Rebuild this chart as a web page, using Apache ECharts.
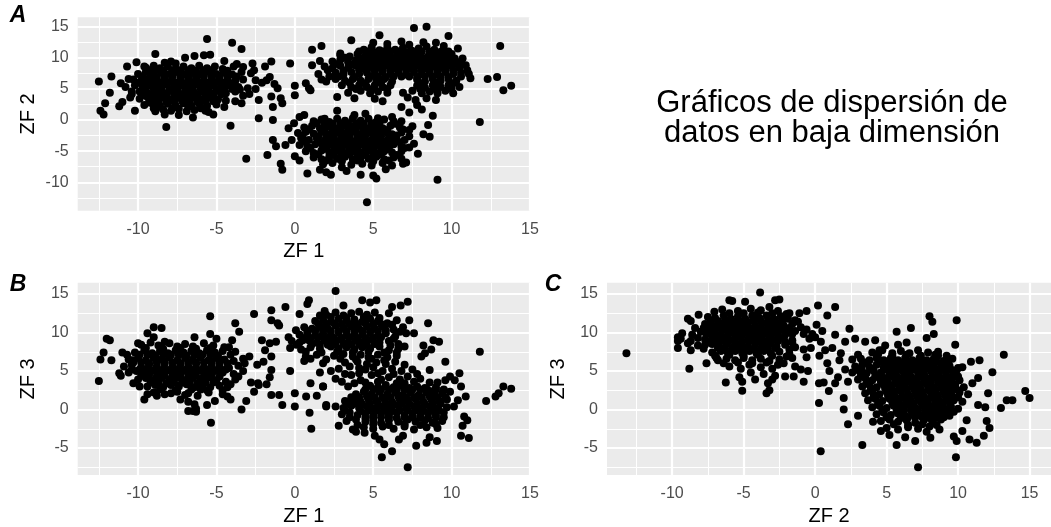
<!DOCTYPE html>
<html><head><meta charset="utf-8">
<script src="https://cdn.jsdelivr.net/npm/echarts@6/dist/echarts.min.js"></script>
<style>html,body{margin:0;padding:0;background:#fff}#c{width:1051px;height:527px}</style>
</head><body><div id="c"></div>
<script>
// ---------- texts ----------
const titleLines = ['Gráficos de dispersión de', 'datos en baja dimensión'];
const panelLabels = ['A', 'B', 'C'];
const xNames = ['ZF 1', 'ZF 1', 'ZF 2'];
const yNames = ['ZF 2', 'ZF 3', 'ZF 3'];
// ---------- ticks ----------
const majorTicksWide = [-10, -5, 0, 5, 10, 15];
const minorTicksWide = [-12.5, -7.5, -2.5, 2.5, 7.5, 12.5];
const majorTicksZF3 = [-5, 0, 5, 10, 15];
const minorTicksZF3 = [-7.5, -2.5, 2.5, 7.5, 12.5];
// ---------- axis ranges ----------
const rangeZF1 = [-13.85, 15.0];
const rangeZF2 = [-14.56, 16.5];
const rangeZF3 = [-8.5, 16.47];

// ---------- Panel A: ZF1 vs ZF2 ----------
const A_left = [
[-12.5,6.2],[-12.4,1.5],[-12.2,0.9],[-12.1,2.7],[-11.8,4.4],[-11.7,7.0],[-11.2,2.2],[-11.0,2.9],[-11.1,5.9],[-10.7,8.6],[-10.6,6.6],[-10.4,4.6],[-10.5,3.6],[-10.2,1.5],[-10.1,9.3],[-9.6,8.6],[-8.9,10.6],[-8.2,-1.1],[-8.3,9.2],[-7.9,9.4],[-7.6,9.1],[-5.6,13.0],[-4.0,12.4],[-3.4,11.4],[-4.1,-0.9],[-3.1,-6.2],[-5.4,10.5],[-5.8,10.4],[-6.4,10.3],[-5.2,0.9],[-5.5,1.3],[-6.5,0.4],[-7.4,0.8],[-8.3,0.9],[-9.0,1.9],[-9.3,2.8],[-7.0,10.0],[-4.5,9.5],[-3.7,9.0],[-3.3,8.5],
[-9.5,8.4],[-9.0,8.7],[-8.6,8.3],[-8.1,8.6],[-7.6,8.2],[-7.1,8.6],[-6.6,8.3],[-6.1,8.7],[-5.6,8.3],[-5.1,8.6],[-4.6,8.2],[-3.9,8.6],
[-10.0,7.4],[-9.5,7.7],[-9.0,7.3],[-8.5,7.6],[-8.0,7.4],[-7.5,7.7],[-7.0,7.3],[-6.5,7.6],[-6.0,7.3],[-5.5,7.7],[-5.0,7.4],[-4.5,7.6],[-4.0,7.3],[-3.4,7.7],[-2.8,7.5],
[-10.3,6.5],[-9.8,6.3],[-9.3,6.6],[-8.8,6.4],[-8.3,6.7],[-7.8,6.3],[-7.3,6.6],[-6.8,6.4],[-6.3,6.7],[-5.8,6.3],[-5.3,6.6],[-4.8,6.4],[-4.3,6.6],[-3.8,6.3],[-3.3,6.5],[-2.5,6.4],[-2.1,6.0],
[-10.8,5.3],[-10.2,5.6],[-9.7,5.3],[-9.2,5.6],[-8.7,5.4],[-8.2,5.7],[-7.7,5.3],[-7.2,5.6],[-6.7,5.4],[-6.2,5.7],[-5.7,5.3],[-5.2,5.6],[-4.7,5.4],[-4.2,5.6],[-3.6,5.3],[-3.0,5.1],[-2.5,5.0],
[-10.4,4.2],[-9.9,4.6],[-9.4,4.3],[-8.9,4.6],[-8.4,4.4],[-7.9,4.7],[-7.4,4.3],[-6.9,4.6],[-6.4,4.3],[-5.9,4.6],[-5.4,4.4],[-4.9,4.7],[-4.4,4.3],[-3.8,4.6],[-3.3,3.9],
[-9.9,3.4],[-9.4,3.7],[-8.9,3.4],[-8.4,3.6],[-7.9,3.3],[-7.4,3.7],[-6.9,3.4],[-6.4,3.6],[-5.9,3.3],[-5.4,3.6],[-4.9,3.3],[-4.4,3.1],[-3.8,3.0],[-3.4,2.7],
[-9.6,2.4],[-9.1,2.7],[-8.6,2.3],[-8.1,2.6],[-7.6,2.3],[-7.1,2.7],[-6.6,2.3],[-6.1,2.6],[-5.6,2.3],[-5.0,2.5],[-4.5,2.1],
[-8.9,1.4],[-8.4,1.7],[-7.9,1.5],[-7.4,1.8],[-6.9,1.4],[-6.4,1.6],[-6.0,1.9],[-5.7,1.5],
[-2.7,9.1],[-1.9,8.6],[-1.5,9.4],[-1.8,6.4],[-1.6,6.9],[-1.3,5.8],[-1.5,3.8],[-1.4,2.1],[-1.4,0.0],[-2.3,0.3],[-2.3,3.2],[-1.1,5.1],[-0.9,3.5],[-0.8,2.7],[-0.3,9.1],[0.0,5.5],[0.0,4.0],[0.7,5.9],[0.9,5.1],[-2.9,4.2],[-2.6,8.0],
[-9.3,8.0],[-8.4,7.9],[-7.3,8.0],[-6.3,7.9],[-5.3,8.0],[-4.3,7.9],
[-9.7,7.0],[-8.8,6.9],[-7.8,7.1],[-6.8,6.9],[-5.8,7.0],[-4.8,7.1],[-3.7,7.0],
[-10.0,6.0],[-9.0,5.9],[-8.0,6.1],[-7.0,5.9],[-6.0,6.0],[-5.0,6.1],[-4.0,5.9],
[-9.5,5.0],[-8.5,4.9],[-7.5,5.1],[-6.5,4.9],[-5.5,5.0],[-4.5,5.1],[-3.5,4.9],
[-9.7,4.0],[-8.7,3.9],[-7.7,4.1],[-6.7,3.9],[-5.7,4.0],[-4.7,4.1],
[-9.2,3.0],[-8.2,2.9],[-7.2,3.1],[-6.2,2.9],[-5.2,3.0],
[-8.8,2.0],[-7.8,1.9],[-6.8,2.1],[-5.8,1.9]
];
const A_leftCore = [
[-9.2,7.0],[-8.3,7.0],[-7.3,7.0],[-6.3,7.0],[-5.3,7.0],[-4.3,7.0],
[-9.5,6.0],[-8.5,6.0],[-7.5,6.0],[-6.5,6.0],[-5.5,6.0],[-4.5,6.0],
[-9.0,5.0],[-8.0,5.0],[-7.0,5.0],[-6.0,5.0],[-5.0,5.0],[-4.0,5.0],
[-9.2,4.0],[-8.2,4.0],[-7.2,4.0],[-6.2,4.0],[-5.2,4.0],
[-8.9,8.0],[-7.8,8.0],[-6.8,8.0],[-5.8,8.0],
[-8.7,3.0],[-7.7,3.0],[-6.7,3.0],[-5.7,3.0]
];
const A_upper = [
[1.1,11.3],[1.7,11.9],[1.1,8.8],[1.6,9.5],[1.0,4.8],[3.6,12.8],[5.4,13.6],[7.6,14.8],[8.4,15.0],[9.8,13.5],[9.5,11.9],[10.4,11.5],[10.7,9.9],[11.2,6.7],[10.1,4.3],[10.5,5.3],[11.8,-0.3],[12.3,6.6],[12.9,6.9],[13.1,11.9],[13.3,4.8],[13.8,5.5],[2.7,3.7],[2.9,10.7],[2.2,7.0],[2.0,6.2],[11.0,8.0],[11.1,7.4],[10.9,8.8],
[4.4,11.3],[4.9,11.7],[5.4,11.2],[5.9,11.6],[6.4,11.3],[6.9,11.6],[7.4,11.2],[7.9,11.5],[8.4,11.8],[8.9,11.3],[9.4,11.1],
[5.0,12.4],[5.9,12.2],[6.8,12.6],[7.3,12.1],[8.2,12.5],[9.0,12.4],
[2.9,10.4],[3.5,10.2],[4.0,10.6],[4.5,10.3],[5.0,10.6],[5.5,10.2],[6.0,10.6],[6.5,10.3],[7.0,10.7],[7.5,10.3],[8.0,10.6],[8.5,10.2],[9.0,10.6],[9.5,10.3],[10.0,10.6],
[2.4,9.4],[2.9,9.7],[3.4,9.3],[3.9,9.6],[4.4,9.3],[4.9,9.7],[5.4,9.4],[5.9,9.6],[6.4,9.3],[6.9,9.7],[7.4,9.4],[7.9,9.6],[8.4,9.3],[8.9,9.7],[9.4,9.4],[9.9,9.6],[10.4,9.3],
[1.9,8.6],[2.4,8.3],[2.9,8.7],[3.4,8.4],[3.9,8.7],[4.4,8.3],[4.9,8.6],[5.4,8.4],[5.9,8.7],[6.4,8.3],[6.9,8.6],[7.4,8.4],[7.9,8.7],[8.4,8.3],[8.9,8.6],[9.4,8.4],[9.9,8.7],[10.5,8.4],
[1.5,7.4],[2.6,7.6],[3.1,7.3],[3.6,7.7],[4.1,7.4],[4.6,7.6],[5.1,7.3],[5.6,7.7],[6.1,7.4],[6.6,7.6],[7.1,7.3],[7.6,7.7],[8.1,7.4],[8.6,7.6],[9.1,7.3],[9.6,7.7],[10.1,7.4],[10.6,7.6],
[1.7,6.5],[2.6,6.6],[3.2,6.3],[3.7,6.6],[4.2,6.3],[4.7,6.6],[5.2,6.3],[5.7,6.6],[6.2,6.2],[7.8,6.5],[8.3,6.2],[8.8,6.6],[9.3,6.3],[9.8,6.6],[10.3,6.3],
[3.0,5.6],[3.6,5.3],[4.1,5.6],[4.6,5.3],[5.1,5.6],[5.6,5.3],[6.1,5.6],[7.8,5.5],[8.3,5.2],[8.8,5.6],[9.3,5.3],[9.8,5.6],
[3.4,4.4],[4.2,4.7],[4.8,4.3],[5.3,4.6],[5.9,4.4],[6.9,4.4],[7.5,4.7],[8.1,4.3],[8.6,4.6],[9.1,4.3],[9.6,4.7],
[3.8,3.5],[5.1,3.4],[5.6,3.0],[7.2,3.6],[7.7,3.2],[8.4,3.5],[9.0,3.2],
[7.8,2.4],[8.1,1.7],[8.8,0.7],[7.3,1.2],[6.8,2.1],
[4.1,11.0],[5.1,10.9],[6.1,11.0],[7.1,10.9],[8.1,11.0],[9.1,10.9],[9.8,11.0],
[3.2,10.0],[4.2,9.9],[5.2,10.0],[6.2,9.9],[7.2,10.0],[8.2,9.9],[9.2,10.0],[10.2,9.9],
[2.6,9.0],[3.6,8.9],[4.6,9.0],[5.6,8.9],[6.6,9.0],[7.6,8.9],[8.6,9.0],[9.6,8.9],[10.6,9.0],
[2.1,8.0],[3.1,7.9],[4.1,8.0],[5.1,7.9],[6.1,8.0],[7.1,7.9],[8.1,8.0],[9.1,7.9],[10.1,8.0],
[2.8,7.0],[3.8,6.9],[4.8,7.0],[5.8,6.9],[6.8,7.0],[7.8,6.9],[8.8,7.0],[9.8,6.9],[10.6,7.0],
[3.5,6.0],[4.5,5.9],[5.5,6.0],[8.1,5.9],[9.1,6.0],[10.1,5.9],
[3.9,5.0],[4.9,4.9],[5.9,5.0],[8.0,5.0],[9.0,4.9],[10.0,5.0]
];
const A_upperCore = [
[4.6,11.0],[5.6,11.0],[6.6,11.0],[7.6,11.0],[8.6,11.0],
[4.7,10.0],[5.7,10.0],[6.7,10.0],[7.7,10.0],[8.7,10.0],[9.7,10.0],
[4.1,9.0],[5.1,9.0],[6.1,9.0],[7.1,9.0],[8.1,9.0],[9.1,9.0],[10.1,9.0],
[4.6,8.0],[5.6,8.0],[6.6,8.0],[7.6,8.0],[8.6,8.0],[9.6,8.0],
[5.3,7.0],[6.3,7.0],[7.3,7.0],[8.3,7.0],[9.3,7.0]
];
const A_lower = [
[-1.75,-5.6],[-1.4,-3.2],[-1.2,-4.2],[-0.9,-7.0],[-0.8,-8.0],[-0.4,-1.3],[-0.05,-0.5],[0.3,0.5],[0.6,0.8],[0.8,-8.6],[4.6,-13.2],[9.1,-9.6],[4.2,-8.8],[5.2,-9.4],[5.0,-8.9],[7.85,-5.4],[8.6,-2.7],[8.5,-0.8],[7.5,-1.0],[1.6,-8.0],[2.3,-8.8],[2.0,-8.4],[1.9,0.2],[2.7,1.5],[3.8,0.8],[4.5,1.0],[5.3,0.3],[6.2,0.5],[6.8,-0.2],[7.1,-6.8],[6.2,-7.3],[3.0,-7.6],[0.3,-6.5],[0.0,-5.8],[-0.6,-4.0],[8.2,-2.3],[7.6,-3.8],[3.3,-8.2],[5.8,-7.9],
[1.2,-0.2],[1.7,0.1],[2.2,-0.3],[2.7,0.2],[3.2,-0.1],[3.7,0.3],[4.2,-0.1],[4.7,0.2],[5.2,-0.3],[5.7,0.1],[6.3,-0.2],
[0.6,-1.2],[1.1,-0.9],[1.6,-1.3],[2.1,-1.0],[2.6,-1.3],[3.1,-0.9],[3.6,-1.2],[4.1,-0.9],[4.6,-1.3],[5.1,-1.0],[5.6,-1.3],[6.1,-0.9],[6.7,-1.2],[7.3,-1.6],
[0.2,-2.1],[0.7,-1.9],[1.2,-2.2],[1.7,-1.9],[2.2,-2.3],[2.7,-2.0],[3.2,-2.2],[3.7,-1.9],[4.2,-2.3],[4.7,-2.0],[5.2,-2.2],[5.7,-1.9],[6.2,-2.3],[6.8,-2.0],[7.3,-2.6],
[-0.2,-3.2],[0.4,-2.9],[0.9,-3.2],[1.4,-2.9],[1.9,-3.3],[2.4,-3.0],[2.9,-3.2],[3.4,-2.9],[3.9,-3.3],[4.4,-3.0],[4.9,-3.2],[5.4,-2.9],[5.9,-3.3],[6.4,-3.0],[7.0,-3.2],
[0.3,-4.0],[0.8,-4.3],[1.3,-3.9],[1.8,-4.2],[2.3,-3.9],[2.8,-4.3],[3.3,-4.0],[3.8,-4.2],[4.3,-3.9],[4.8,-4.3],[5.3,-4.0],[5.8,-4.2],[6.3,-3.9],[6.8,-4.3],[7.3,-4.4],
[0.7,-5.0],[1.2,-5.3],[1.7,-4.9],[2.2,-5.2],[2.7,-4.9],[3.2,-5.3],[3.7,-5.0],[4.2,-5.2],[4.7,-4.9],[5.2,-5.3],[5.7,-5.0],[6.2,-5.2],[6.8,-5.0],
[1.2,-6.0],[1.7,-6.3],[2.2,-5.9],[2.7,-6.2],[3.2,-5.9],[3.7,-6.3],[4.2,-6.0],[4.7,-6.2],[5.2,-5.9],[5.7,-6.3],[6.3,-6.0],[6.8,-6.2],
[1.8,-7.1],[2.4,-6.9],[3.6,-7.2],[4.3,-7.0],[4.9,-7.3],[5.6,-6.9],[6.9,-7.0],
[1.4,-0.5],[2.4,-0.6],[3.4,-0.5],[4.4,-0.6],[5.4,-0.5],[6.4,-0.6],
[0.9,-1.5],[1.9,-1.6],[2.9,-1.5],[3.9,-1.6],[4.9,-1.5],[5.9,-1.6],[6.9,-1.5],
[0.5,-2.5],[1.5,-2.6],[2.5,-2.5],[3.5,-2.6],[4.5,-2.5],[5.5,-2.6],[6.5,-2.5],
[0.6,-3.5],[1.6,-3.6],[2.6,-3.5],[3.6,-3.6],[4.6,-3.5],[5.6,-3.6],[6.6,-3.5],
[1.0,-4.5],[2.0,-4.6],[3.0,-4.5],[4.0,-4.6],[5.0,-4.5],[6.0,-4.6],[7.0,-4.5],
[1.5,-5.5],[2.5,-5.6],[3.5,-5.5],[4.5,-5.6],[5.5,-5.5],[6.5,-5.6],
[2.0,-6.5],[3.0,-6.6],[4.0,-6.5],[5.0,-6.6],[6.0,-6.5]
];
const A_lowerCore = [
[1.9,-0.5],[2.9,-0.5],[3.9,-0.5],[4.9,-0.5],
[2.4,-1.5],[3.4,-1.5],[4.4,-1.5],[5.4,-1.5],
[2.0,-2.5],[3.0,-2.5],[4.0,-2.5],[5.0,-2.5],[6.0,-2.5],
[2.1,-3.5],[3.1,-3.5],[4.1,-3.5],[5.1,-3.5],[6.1,-3.5],
[2.5,-4.5],[3.5,-4.5],[4.5,-4.5],[5.5,-4.5],
[3.0,-5.5],[4.0,-5.5],[5.0,-5.5]
];

// ---------- Panel B: ZF1 vs ZF3 ----------
const B_left = [
[-12.5,3.7],[-12.4,6.5],[-12.2,7.4],[-12.0,9.2],[-11.8,9.0],[-11.7,6.4],[-11.1,4.4],[-11.2,4.7],[-11.0,7.4],[-10.7,7.1],[-10.35,6.4],[-10.0,8.6],[-10.3,3.4],[-9.9,3.0],[-9.6,1.3],[-9.4,2.0],[-9.4,9.9],[-9.0,10.7],[-8.5,10.6],[-8.3,8.8],[-6.8,-0.2],[-6.5,-0.2],[-6.3,0.1],[-5.6,0.6],[-5.4,12.1],[-5.35,-1.7],[-5.1,1.1],[-4.3,1.7],[-4.1,1.3],[-3.8,11.2],[-3.55,10.1],[-3.4,0.0],[-3.1,1.1],[-5.4,9.8],[-5.0,9.2],[-6.4,9.4],[-7.0,1.9],[-7.9,2.1],[-8.8,1.8],[-9.0,9.4],[-4.0,9.0],[-6.3,-0.3],[-6.0,2.6],
[-9.8,8.4],[-9.2,8.7],[-8.7,8.3],[-8.0,8.6],[-7.5,8.2],[-7.0,8.5],[-6.5,8.2],[-5.8,8.6],[-5.2,8.3],[-4.5,8.1],
[-10.2,7.4],[-9.6,7.7],[-9.1,7.3],[-8.6,7.6],[-8.1,7.3],[-7.6,7.7],[-7.1,7.4],[-6.6,7.6],[-6.1,7.3],[-5.6,7.7],[-5.1,7.4],[-4.6,7.6],[-3.8,7.5],
[-10.6,6.5],[-10.0,6.7],[-9.5,6.4],[-9.0,6.7],[-8.5,6.5],[-8.0,6.8],[-7.5,6.4],[-7.0,6.7],[-6.5,6.5],[-6.0,6.8],[-5.5,6.4],[-5.0,6.7],[-4.5,6.5],[-3.9,6.3],[-3.3,6.6],
[-10.9,5.6],[-10.4,5.8],[-9.8,5.5],[-9.3,5.8],[-8.8,5.6],[-8.3,5.9],[-7.8,5.5],[-7.3,5.8],[-6.8,5.6],[-6.3,5.9],[-5.8,5.5],[-5.3,5.8],[-4.8,5.6],[-4.2,5.4],[-3.6,5.7],
[-10.6,4.8],[-10.1,5.0],[-9.6,4.7],[-9.1,5.0],[-8.6,4.8],[-8.1,5.1],[-7.6,4.7],[-7.1,5.0],[-6.6,4.8],[-6.1,5.1],[-5.6,4.7],[-5.1,5.0],[-4.6,4.8],[-3.9,4.6],
[-10.0,3.9],[-9.5,4.1],[-9.0,3.8],[-8.5,4.1],[-8.0,3.9],[-7.5,4.2],[-7.0,3.8],[-6.5,4.1],[-6.0,3.9],[-5.5,4.2],[-5.0,3.8],[-4.4,3.6],[-3.8,3.9],
[-9.4,3.0],[-8.9,3.2],[-8.4,2.9],[-7.9,3.2],[-7.4,3.0],[-6.9,3.3],[-6.4,2.9],[-5.9,3.2],[-5.4,2.9],[-4.8,3.1],[-4.3,2.9],
[-9.0,2.2],[-8.3,2.0],[-7.5,2.3],[-6.8,2.1],[-6.2,1.8],[-5.5,2.2],[-4.6,2.0],
[-6.8,1.0],[-6.4,0.7],[-7.3,1.3],
[-2.6,12.4],[-1.5,11.6],[-1.5,12.9],[-0.6,13.3],[-1.1,11.2],[-2.1,9.0],[-1.9,7.7],[-1.5,6.9],[-1.5,5.15],[-2.35,3.4],[-1.5,1.9],[-1.0,1.9],[-0.8,0.6],[-2.8,3.5],[-2.4,5.8],[-2.0,6.2],[-1.2,8.8],[-1.0,10.9],[-1.6,8.6],[-2.9,6.9],[-1.6,4.2],[-0.3,5.0],[-0.4,9.4],[-2.3,3.2],[-1.8,3.3],[-2.6,2.3],
[-9.5,8.0],[-8.4,7.9],[-7.3,8.0],[-6.3,7.9],[-5.4,8.0],[-4.2,8.1],
[-9.9,7.1],[-8.9,7.0],[-7.9,7.1],[-6.9,7.0],[-5.9,7.1],[-4.9,7.0],[-4.1,7.1],
[-10.3,6.1],[-9.3,6.0],[-8.3,6.2],[-7.3,6.0],[-6.3,6.1],[-5.3,6.2],[-4.3,6.0],[-3.2,6.0],
[-10.4,5.2],[-9.4,5.3],[-8.4,5.2],[-7.4,5.3],[-6.4,5.2],[-5.4,5.3],[-4.4,5.2],[-3.3,5.0],
[-9.8,4.4],[-8.8,4.3],[-7.8,4.4],[-6.8,4.3],[-5.8,4.4],[-4.8,4.3],[-3.6,4.3],
[-9.2,3.5],[-8.2,3.4],[-7.2,3.5],[-6.2,3.4],[-5.2,3.5],[-4.1,3.3],
[-8.6,2.6],[-7.6,2.5],[-6.6,2.6],[-5.6,2.5],[-4.6,2.5]
];
const B_leftCore = [
[-9.4,7.1],[-8.4,7.1],[-7.4,7.1],[-6.4,7.1],[-5.4,7.1],
[-9.8,6.1],[-8.8,6.1],[-7.8,6.1],[-6.8,6.1],[-5.8,6.1],[-4.8,6.1],
[-9.9,5.2],[-8.9,5.2],[-7.9,5.2],[-6.9,5.2],[-5.9,5.2],[-4.9,5.2],
[-9.3,4.4],[-8.3,4.4],[-7.3,4.4],[-6.3,4.4],[-5.3,4.4],
[-8.7,3.5],[-7.7,3.5],[-6.7,3.5],[-5.7,3.5]
];
const B_right = [
[2.6,15.4],[3.1,13.5],[4.3,14.2],[4.8,13.9],[5.2,14.2],[6.2,13.3],[6.75,13.5],[7.2,14.0],[7.3,11.6],[8.5,11.2],[7.1,9.9],[8.84,9.0],[9.2,8.8],[8.07,6.9],[8.6,5.15],[9.6,6.2],[0.3,12.4],[0.8,13.7],[0.9,14.2],[0.07,10.3],[0.5,9.0],[1.9,12.8],[1.6,12.2],[6.0,12.5],[5.6,11.0],[7.6,9.9],[8.2,8.3],[8.7,7.8],[8.3,7.3],
[2.0,12.3],[2.6,12.6],[3.1,12.2],[3.6,12.5],[4.1,12.7],[4.6,12.3],[5.1,12.6],
[1.3,11.5],[1.8,11.7],[2.3,11.4],[2.8,11.8],[3.3,11.5],[3.8,11.7],[4.3,11.4],[4.8,11.8],[5.3,11.5],[5.9,11.2],[6.5,11.6],
[0.6,10.7],[1.1,10.5],[1.6,10.8],[2.1,10.5],[2.6,10.9],[3.1,10.6],[3.6,10.8],[4.1,10.5],[4.6,10.8],[5.1,10.5],[5.6,10.8],[6.3,10.4],[6.9,10.7],
[0.3,9.7],[0.8,9.9],[1.3,9.6],[1.8,9.9],[2.3,9.7],[2.8,10.0],[3.3,9.6],[3.8,9.9],[4.3,9.7],[4.8,10.0],[5.3,9.6],[5.8,9.9],[6.4,9.5],
[-0.2,8.9],[0.3,8.7],[0.9,9.0],[1.4,8.7],[1.9,9.0],[2.4,8.8],[2.9,9.1],[3.4,8.7],[3.9,9.0],[4.4,8.8],[4.9,9.1],[5.4,8.7],[6.0,8.9],[6.6,8.5],
[-0.3,8.0],[0.4,7.8],[1.0,8.1],[1.6,7.9],[2.3,8.2],[2.8,7.9],[3.3,8.1],[3.8,7.8],[4.3,8.1],[4.8,7.9],[5.4,8.2],[6.0,7.7],[6.6,7.9],
[0.7,6.9],[1.4,7.1],[2.5,7.0],[3.1,7.2],[3.7,6.9],[4.2,7.1],[4.7,6.8],[5.3,7.1],[5.9,6.8],[6.5,7.0],
[0.6,6.3],[1.8,6.0],[3.2,6.1],[4.0,6.2],[4.6,5.9],[5.2,6.1],[5.8,5.9],[6.4,6.2],[7.0,5.8],
[1.0,3.4],[1.8,3.0],[1.6,4.8],[2.3,5.0],[2.6,4.0],[3.0,3.6],[3.4,3.0],[3.6,4.5],[4.2,3.8],[4.5,5.2],[4.9,4.5],[5.3,3.6],[5.6,5.0],[6.0,4.2],[6.5,3.4],[6.8,5.0],[7.2,4.3],[7.6,3.6],[8.0,4.0],[8.3,2.8],[0.72,1.7],[0.94,-0.43],[1.05,-2.5],[0.0,2.1],[0.0,0.4],[2.0,0.6],[1.4,1.8],
[4.8,3.1],[5.3,2.9],[5.8,3.2],[6.3,2.9],[6.8,3.1],[7.3,2.8],[7.8,3.0],[8.4,2.7],[9.0,2.9],[9.5,2.6],
[3.9,2.0],[4.4,2.3],[4.9,2.0],[5.4,2.3],[5.9,2.0],[6.4,2.2],[6.9,1.9],[7.4,2.2],[7.9,1.9],[8.4,2.2],[8.9,1.9],[9.4,2.1],[9.9,2.3],
[3.2,1.1],[3.7,1.3],[4.2,1.0],[4.7,1.3],[5.2,1.1],[5.7,1.4],[6.2,1.0],[6.7,1.3],[7.2,1.1],[7.7,1.4],[8.2,1.0],[8.7,1.3],[9.2,1.1],[9.7,1.3],
[2.6,0.4],[3.1,0.2],[3.6,0.5],[4.1,0.2],[4.6,0.4],[5.1,0.1],[5.6,0.4],[6.1,0.2],[6.6,0.5],[7.1,0.2],[7.6,0.4],[8.1,0.1],[8.6,0.4],[9.1,0.2],[9.7,0.3],
[3.0,-0.6],[3.5,-0.4],[4.0,-0.7],[4.5,-0.5],[5.0,-0.8],[5.5,-0.5],[6.0,-0.7],[6.5,-0.4],[7.0,-0.7],[7.5,-0.5],[8.0,-0.8],[8.5,-0.5],[9.0,-0.7],[9.5,-0.4],
[3.3,-1.5],[3.9,-1.3],[4.5,-1.6],[5.0,-1.4],[5.5,-1.7],[6.0,-1.4],[6.6,-1.6],[7.2,-1.3],[7.7,-1.6],[8.3,-1.4],[8.8,-1.7],[9.4,-1.5],
[3.7,-2.6],[4.4,-2.3],[5.0,-2.5],[5.6,-2.2],[6.3,-2.5],[7.0,-2.2],[7.6,-2.6],[8.4,-2.3],[9.1,-2.4],
[5.55,-6.2],[6.2,-5.4],[7.2,-7.5],[7.74,-4.7],[8.4,-4.3],[9.06,-4.1],[6.64,-3.9],[5.1,-3.4],[4.45,-3.0],[3.9,-2.9],[2.8,-2.1],[2.0,0.4],[1.8,3.0],[5.7,-4.5],[6.9,-3.4],[8.6,-3.6],[5.4,-3.9],
[9.9,4.3],[10.5,4.7],[10.6,3.0],[10.15,0.4],[10.8,-0.9],[10.7,-2.1],[10.6,-3.4],[11.1,-3.7],[10.9,1.7],[11.8,7.5],[12.2,1.1],[12.8,1.7],[13.0,2.1],[13.3,3.0],[13.8,2.7],[10.2,3.8],[10.4,1.2],[11.0,-1.4],[9.6,3.8],
[2.3,12.0],[3.3,11.9],[4.4,12.0],[5.4,11.9],
[1.5,11.1],[2.5,11.2],[3.5,11.1],[4.5,11.2],[5.5,11.1],[6.2,11.0],
[0.8,10.2],[1.8,10.3],[2.8,10.2],[3.8,10.3],[4.8,10.2],[5.8,10.3],[6.7,10.1],
[0.5,9.3],[1.5,9.4],[2.5,9.3],[3.5,9.4],[4.5,9.3],[5.5,9.4],[6.3,9.2],
[0.1,8.4],[1.1,8.5],[2.1,8.4],[3.1,8.5],[4.1,8.4],[5.1,8.5],[6.1,8.3],[7.0,8.2],
[0.7,7.5],[1.7,7.4],[2.7,7.5],[3.7,7.4],[4.7,7.5],[5.7,7.4],[6.5,7.4],
[1.0,6.6],[2.0,6.5],[2.9,6.6],[3.9,6.5],[4.9,6.6],[5.7,6.4],
[2.8,5.3],[3.5,5.6],[4.1,5.4],[5.0,5.5],[6.2,5.3],[7.5,5.2],[3.2,4.6],[4.1,4.7],[5.3,4.7],[6.3,4.6],[7.8,4.6],[3.8,3.4],[4.5,3.5],[5.5,3.9],[6.7,3.9],[7.0,3.4],[8.6,3.5],[9.1,3.5],
[4.5,2.6],[5.5,2.6],[6.5,2.5],[7.5,2.6],[8.6,2.4],[9.5,2.5],
[3.6,1.6],[4.6,1.7],[5.6,1.6],[6.6,1.7],[7.6,1.6],[8.6,1.7],[9.6,1.6],
[3.3,0.8],[4.3,0.7],[5.3,0.8],[6.3,0.7],[7.3,0.8],[8.3,0.7],[9.3,0.8],
[3.2,-0.1],[4.2,-0.2],[5.2,-0.1],[6.2,-0.2],[7.2,-0.1],[8.2,-0.2],[9.2,-0.1],
[3.5,-1.0],[4.5,-1.1],[5.5,-1.0],[6.5,-1.1],[7.5,-1.0],[8.5,-1.1],[9.5,-1.0],
[4.0,-2.0],[5.0,-1.9],[6.0,-2.0],[7.0,-1.9],[8.0,-2.0],[9.0,-1.9]
];
const B_rightCore = [
[2.0,11.1],[3.0,11.1],[4.0,11.1],[5.0,11.1],
[1.3,10.2],[2.3,10.2],[3.3,10.2],[4.3,10.2],[5.3,10.2],
[1.0,9.3],[2.0,9.3],[3.0,9.3],[4.0,9.3],[5.0,9.3],
[1.6,8.4],[2.6,8.4],[3.6,8.4],[4.6,8.4],
[5.0,2.6],[6.0,2.6],[7.0,2.6],[8.0,2.6],[9.0,2.6],
[4.1,1.6],[5.1,1.6],[6.1,1.6],[7.1,1.6],[8.1,1.6],[9.1,1.6],
[3.8,0.8],[4.8,0.8],[5.8,0.8],[6.8,0.8],[7.8,0.8],[8.8,0.8],
[4.7,-0.1],[5.7,-0.1],[6.7,-0.1],[7.7,-0.1],[8.7,-0.1],
[5.0,-1.0],[6.0,-1.0],[7.0,-1.0],[8.0,-1.0],[9.0,-1.0]
];

// ---------- Panel C: ZF2 vs ZF3 ----------
const C_upper = [
[-13.2,7.3],[-8.8,5.3],[-5.1,3.6],[-5.1,2.45],[-6.25,3.5],[-3.4,2.1],[-3.2,2.5],[-9.6,9.4],[-9.6,8.9],[-9.6,8.0],[-8.9,11.8],[-8.7,11.5],[-8.7,7.7],[-8.15,12.3],[-8.4,10.6],[-7.7,8.4],[-7.5,12.0],[-7.6,6.0],[-7.05,12.7],[-3.85,15.2],[-6.0,14.2],[-5.8,14.1],[-4.9,14.0],[-2.8,14.2],[-2.5,14.3],[-1.1,12.5],[0.2,13.5],[1.4,13.3],[0.85,12.2],[-9.3,9.9],[-8.9,8.6],[-6.9,6.7],[-4.5,4.8],[-3.0,3.9],[-2.1,4.3],[-1.5,4.3],[-0.8,3.6],[-1.0,5.2],[-0.6,12.8],[-1.8,12.5],
[-6.5,13.0],[-5.4,12.8],[-4.5,13.1],[-3.8,12.9],[-3.2,13.3],[-2.6,12.8],
[-7.0,11.9],[-6.4,12.2],[-5.9,11.8],[-5.4,12.1],[-4.9,11.8],[-4.4,12.2],[-3.9,11.9],[-3.4,12.2],[-2.9,11.8],[-2.4,12.1],[-1.9,11.8],[-1.4,11.6],
[-7.7,11.1],[-7.2,10.9],[-6.7,11.2],[-6.2,10.9],[-5.7,11.2],[-5.2,10.9],[-4.7,11.2],[-4.2,10.9],[-3.7,11.2],[-3.2,10.9],[-2.7,11.2],[-2.2,10.9],[-1.6,11.1],[-1.0,10.7],
[-8.0,10.1],[-7.5,10.3],[-7.0,10.0],[-6.5,10.3],[-6.0,10.0],[-5.5,10.3],[-5.0,10.0],[-4.5,10.3],[-4.0,10.0],[-3.5,10.3],[-3.0,10.0],[-2.5,10.3],[-2.0,10.0],[-1.4,10.2],[-0.8,9.8],
[-9.4,9.2],[-8.2,9.3],[-7.7,9.1],[-7.2,9.4],[-6.7,9.1],[-6.2,9.4],[-5.7,9.1],[-5.2,9.4],[-4.7,9.1],[-4.2,9.4],[-3.7,9.1],[-3.2,9.4],[-2.7,9.1],[-2.2,9.3],[-1.6,9.0],
[-8.2,8.3],[-7.2,8.5],[-6.7,8.2],[-6.2,8.5],[-5.7,8.2],[-5.2,8.5],[-4.7,8.2],[-4.2,8.5],[-3.7,8.2],[-3.2,8.5],[-2.7,8.2],[-2.1,8.4],[-1.4,8.1],[-0.8,7.8],
[-7.2,7.4],[-6.6,7.6],[-6.1,7.3],[-5.6,7.6],[-5.1,7.3],[-4.6,7.6],[-4.1,7.3],[-3.6,7.6],[-3.1,7.3],[-2.5,7.5],[-1.8,7.2],
[-6.8,6.4],[-6.2,6.6],[-5.6,6.4],[-5.0,6.7],[-4.4,6.4],[-3.8,6.6],[-3.2,6.3],[-2.5,6.5],[-1.6,6.7],
[-6.0,5.6],[-5.2,5.3],[-4.6,5.8],[-3.8,5.5],[-3.0,5.3],[-2.6,5.8],[-1.4,5.6],
[-5.3,4.2],[-3.6,4.6],[-2.8,4.4],[-4.2,3.9],[-3.3,3.4],
[0.0,9.4],[0.4,8.8],[0.7,7.7],[1.4,9.7],[0.85,6.0],[0.27,3.4],[0.6,3.5],[0.96,2.4],[1.4,3.4],[2.1,5.2],[2.4,10.5],[2.1,8.8],[2.8,9.2],[3.0,7.1],[1.7,6.4],[3.25,5.2],[3.5,8.8],[4.2,9.0],[4.5,7.7],[-0.3,8.0],[-0.6,6.8],[0.3,7.0],[1.2,8.0],[1.8,7.3],[2.6,6.5],[-0.2,9.8],[0.1,11.0],[0.5,10.2],[0.27,0.86],[0.39,-5.4],[-0.5,5.0],[1.0,5.0],[1.6,4.2],[2.3,3.6],[2.0,1.5],
[-6.0,12.5],[-5.0,12.5],[-4.0,12.6],[-3.0,12.5],[-2.0,12.4],
[-7.3,11.5],[-6.3,11.6],[-5.3,11.5],[-4.3,11.6],[-3.3,11.5],[-2.3,11.6],[-1.2,11.4],
[-7.8,10.6],[-6.8,10.7],[-5.8,10.6],[-4.8,10.7],[-3.8,10.6],[-2.8,10.7],[-1.8,10.6],[-0.6,10.4],
[-8.6,9.7],[-7.6,9.8],[-6.6,9.7],[-5.6,9.8],[-4.6,9.7],[-3.6,9.8],[-2.6,9.7],[-1.6,9.8],[-0.4,9.2],
[-8.7,8.9],[-7.6,8.8],[-6.6,8.9],[-5.6,8.8],[-4.6,8.9],[-3.6,8.8],[-2.6,8.9],[-1.6,8.7],
[-7.8,7.9],[-6.8,8.0],[-5.8,7.9],[-4.8,8.0],[-3.8,7.9],[-2.8,8.0],[-1.8,7.8],
[-7.0,7.0],[-6.0,7.1],[-5.0,7.0],[-4.0,7.1],[-3.0,7.0],[-2.0,6.9],
[-6.4,6.0],[-5.4,6.1],[-4.4,6.0],[-3.4,6.1],[-2.2,6.0]
];
const C_upperCore = [
[-6.8,11.5],[-5.8,11.5],[-4.8,11.5],[-3.8,11.5],[-2.8,11.5],
[-7.3,10.6],[-6.3,10.6],[-5.3,10.6],[-4.3,10.6],[-3.3,10.6],[-2.3,10.6],
[-7.1,9.7],[-6.1,9.7],[-5.1,9.7],[-4.1,9.7],[-3.1,9.7],[-2.1,9.7],
[-7.1,8.8],[-6.1,8.8],[-5.1,8.8],[-4.1,8.8],[-3.1,8.8],[-2.1,8.8],
[-6.3,7.9],[-5.3,7.9],[-4.3,7.9],[-3.3,7.9]
];
const C_lower = [
[3.3,-4.6],[2.3,-1.9],[2.0,0.0],[3.0,-0.8],[4.05,-1.6],[5.7,-4.6],[7.0,-4.1],[7.2,-7.5],[8.06,-3.65],[9.85,-6.2],[9.9,-4.1],[9.8,8.4],[9.9,11.6],[8.0,12.1],[8.2,11.4],[6.7,10.6],[5.7,10.1],[13.2,7.1],[12.4,4.85],[13.0,0.2],[13.4,1.2],[13.8,1.2],[14.7,2.4],[15.0,1.5],[12.2,-2.4],[11.8,-3.4],[11.3,-4.3],[10.8,-3.9],[12.1,2.1],[11.4,4.1],[10.9,6.2],[11.0,3.4],[11.5,6.4],[11.9,0.3],[10.6,-1.4],[10.3,-2.8],[9.7,-3.5],[4.6,-2.8],[5.2,-3.3],[6.3,-3.6],[8.7,-2.6],[7.8,-2.9],[10.3,5.5],[11.4,0.6],[12.0,-1.5],[9.2,7.0],[8.6,7.5],[7.8,9.3],[8.3,9.8],[6.4,8.7],[5.8,8.4],[4.9,8.3],
[4.0,7.4],[4.7,7.7],[5.4,7.3],[6.0,7.6],[6.6,7.3],[7.2,7.7],[7.9,7.4],[8.6,7.0],
[3.2,6.6],[3.8,6.4],[4.3,6.7],[4.8,6.4],[5.3,6.7],[5.8,6.4],[6.3,6.7],[6.8,6.4],[7.3,6.7],[7.8,6.4],[8.3,6.6],[9.0,6.3],[9.6,6.6],
[2.8,5.6],[3.3,5.8],[3.8,5.5],[4.3,5.8],[4.8,5.5],[5.3,5.8],[5.8,5.5],[6.3,5.8],[6.8,5.5],[7.3,5.8],[7.8,5.5],[8.3,5.8],[8.8,5.5],[9.4,5.7],[10.0,5.4],
[2.6,4.8],[3.1,5.0],[3.6,4.7],[4.1,5.0],[4.6,4.8],[5.1,5.1],[5.6,4.7],[6.1,5.0],[6.6,4.8],[7.1,5.1],[7.6,4.7],[8.1,5.0],[8.6,4.8],[9.1,5.0],[9.7,4.7],
[3.0,3.9],[3.5,4.1],[4.0,3.8],[4.5,4.1],[5.0,3.9],[5.5,4.2],[6.0,3.8],[6.5,4.1],[7.0,3.9],[7.5,4.2],[8.0,3.8],[8.5,4.1],[9.0,3.9],[9.5,4.1],[10.1,3.8],
[3.3,3.0],[3.8,3.2],[4.3,2.9],[4.8,3.2],[5.3,3.0],[5.8,3.3],[6.3,2.9],[6.8,3.2],[7.3,3.0],[7.8,3.3],[8.3,2.9],[8.8,3.2],[9.3,3.0],[9.8,3.2],[10.4,2.9],
[3.5,2.1],[4.0,2.3],[4.5,2.0],[5.0,2.3],[5.5,2.1],[6.0,2.4],[6.5,2.0],[7.0,2.3],[7.5,2.1],[8.0,2.4],[8.5,2.0],[9.0,2.3],[9.5,2.1],[10.1,2.2],[10.7,2.0],
[3.7,1.2],[4.2,1.4],[4.7,1.1],[5.2,1.4],[5.7,1.2],[6.2,1.5],[6.7,1.1],[7.2,1.4],[7.7,1.2],[8.2,1.5],[8.7,1.1],[9.2,1.4],[9.7,1.2],[10.3,1.0],
[4.0,0.3],[4.5,0.5],[5.0,0.2],[5.5,0.5],[6.0,0.3],[6.5,0.6],[7.0,0.2],[7.5,0.5],[8.0,0.3],[8.5,0.6],[9.0,0.2],[9.5,0.4],[10.0,0.1],
[4.3,-0.6],[4.8,-0.4],[5.3,-0.7],[5.8,-0.5],[6.3,-0.8],[6.8,-0.5],[7.3,-0.7],[7.8,-0.4],[8.3,-0.7],[8.8,-0.5],[9.4,-0.8],
[4.6,-1.5],[5.2,-1.3],[5.8,-1.6],[6.4,-1.4],[7.0,-1.7],[7.6,-1.4],[8.2,-1.6],[8.8,-1.3],
[5.0,-2.4],[5.8,-2.6],[6.5,-2.3],[7.2,-2.5],[8.0,-2.2],
[4.4,7.1],[5.4,7.0],[6.4,7.1],[7.4,7.0],[8.4,7.1],
[3.5,6.1],[4.5,6.2],[5.5,6.1],[6.5,6.2],[7.5,6.1],[8.5,6.2],[9.3,6.1],
[3.0,5.2],[4.0,5.3],[5.0,5.2],[6.0,5.3],[7.0,5.2],[8.0,5.3],[9.0,5.2],[9.9,5.1],
[3.2,4.4],[4.2,4.3],[5.2,4.4],[6.2,4.3],[7.2,4.4],[8.2,4.3],[9.2,4.4],[10.0,4.3],
[3.6,3.5],[4.6,3.6],[5.6,3.5],[6.6,3.6],[7.6,3.5],[8.6,3.6],[9.6,3.5],
[3.9,2.6],[4.9,2.7],[5.9,2.6],[6.9,2.7],[7.9,2.6],[8.9,2.7],[9.9,2.6],
[4.1,1.7],[5.1,1.8],[6.1,1.7],[7.1,1.8],[8.1,1.7],[9.1,1.8],[10.0,1.6],
[4.4,0.8],[5.4,0.9],[6.4,0.8],[7.4,0.9],[8.4,0.8],[9.4,0.9],
[4.7,-0.1],[5.7,-0.2],[6.7,-0.1],[7.7,-0.2],[8.7,-0.1],[9.7,-0.3],
[5.0,-1.0],[6.0,-1.1],[7.0,-1.0],[8.0,-1.1],[9.0,-1.0],
[5.5,-1.9],[6.5,-2.0],[7.5,-1.9],[8.5,-2.0]
];
const C_lowerCore = [
[5.0,6.1],[6.0,6.1],[7.0,6.1],[8.0,6.1],[9.0,6.1],
[5.5,5.2],[6.5,5.2],[7.5,5.2],[8.5,5.2],[9.5,5.2],
[4.7,4.3],[5.7,4.3],[6.7,4.3],[7.7,4.3],[8.7,4.3],[9.7,4.3],
[5.1,3.5],[6.1,3.5],[7.1,3.5],[8.1,3.5],[9.1,3.5],
[5.4,2.6],[6.4,2.6],[7.4,2.6],[8.4,2.6],[9.4,2.6],
[5.6,1.7],[6.6,1.7],[7.6,1.7],[8.6,1.7],[9.6,1.7],
[5.9,0.8],[6.9,0.8],[7.9,0.8],[8.9,0.8],
[6.2,-0.1],[7.2,-0.1],[8.2,-0.1],[9.2,-0.1],
[6.5,-1.0],[7.5,-1.0],[8.5,-1.0]
];

// ---------- chart ----------
const FONT = "'Liberation Sans', Arial, sans-serif";
const grids = [
  {left: 77.7, top: 17.3, width: 452.3, height: 193.4},
  {left: 77.7, top: 282.7, width: 452.3, height: 193},
  {left: 607, top: 282.7, width: 454, height: 193}
];
const xRanges = [rangeZF1, rangeZF1, rangeZF2];
const yRanges = [rangeZF2, rangeZF3, rangeZF3];
const xMajor = [majorTicksWide, majorTicksWide, majorTicksWide];
const xMinor = [minorTicksWide, minorTicksWide, minorTicksWide];
const yMajor = [majorTicksWide, majorTicksZF3, majorTicksZF3];
const yMinor = [minorTicksWide, minorTicksZF3, minorTicksZF3];
const panelPoints = [
  A_left.concat(A_leftCore, A_upper, A_upperCore, A_lower, A_lowerCore),
  B_left.concat(B_leftCore, B_right, B_rightCore),
  C_upper.concat(C_upperCore, C_lower, C_lowerCore)
];

const xAxes = [], yAxes = [], series = [];
for (let i = 0; i < 3; i++) {
  xAxes.push({
    type: 'value', gridIndex: i, min: xRanges[i][0], max: xRanges[i][1],
    name: xNames[i], nameLocation: 'middle', nameGap: 31,
    nameTextStyle: {fontSize: 20, color: '#000', fontFamily: FONT},
    axisLine: {show: false},
    axisTick: {show: true, length: 5, lineStyle: {color: '#333', width: 2}, customValues: xMajor[i]},
    axisLabel: {customValues: xMajor[i], color: '#4D4D4D', fontSize: 16, margin: 11, fontFamily: FONT},
    splitLine: {show: false}
  });
  yAxes.push({
    type: 'value', gridIndex: i, min: yRanges[i][0], max: yRanges[i][1],
    name: yNames[i], nameLocation: 'middle', nameGap: 39,
    nameTextStyle: {fontSize: 20, color: '#000', fontFamily: FONT},
    axisLine: {show: false},
    axisTick: {show: true, length: 5, lineStyle: {color: '#333', width: 2}, customValues: yMajor[i]},
    axisLabel: {customValues: yMajor[i], color: '#4D4D4D', fontSize: 16, margin: 9, fontFamily: FONT},
    splitLine: {show: false}
  });
  const lines = [];
  xMinor[i].forEach(v => lines.push({xAxis: v, lineStyle: {width: 1.1}}));
  yMinor[i].forEach(v => lines.push({yAxis: v, lineStyle: {width: 1.1}}));
  xMajor[i].forEach(v => lines.push({xAxis: v, lineStyle: {width: 2.2}}));
  yMajor[i].forEach(v => lines.push({yAxis: v, lineStyle: {width: 2.2}}));
  series.push({
    type: 'scatter', xAxisIndex: i, yAxisIndex: i, data: [], silent: true, z: 1,
    markLine: {
      silent: true, symbol: 'none', animation: false, label: {show: false},
      emphasis: {disabled: true},
      lineStyle: {color: '#FFFFFF', type: 'solid', opacity: 1},
      data: lines
    }
  });
  series.push({
    type: 'scatter', xAxisIndex: i, yAxisIndex: i, z: 10,
    symbol: 'circle', symbolSize: 8,
    itemStyle: {color: '#000', opacity: 1},
    emphasis: {disabled: true}, silent: true,
    data: panelPoints[i]
  });
}

const labelPos = [[18, 16], [18, 285], [553, 285]];
const graphic = panelLabels.map((t, i) => ({
  type: 'text', x: labelPos[i][0], y: labelPos[i][1],
  style: {text: t, font: `italic bold 23px ${FONT}`, fill: '#000', align: 'center', verticalAlign: 'middle'}
}));
graphic.push({
  type: 'text', x: 832, y: 118,
  style: {text: titleLines.join('\n'), font: `31px ${FONT}`, lineHeight: 30, fill: '#000', align: 'center', verticalAlign: 'middle'}
});

const chart = echarts.init(document.getElementById('c'), null, {renderer: 'canvas'});
chart.setOption({
  animation: false,
  backgroundColor: '#FFFFFF',
  grid: grids.map(g => Object.assign({show: true, backgroundColor: '#EBEBEB', borderWidth: 0, containLabel: false}, g)),
  xAxis: xAxes,
  yAxis: yAxes,
  series: series,
  graphic: graphic
});
</script>
</body></html>
